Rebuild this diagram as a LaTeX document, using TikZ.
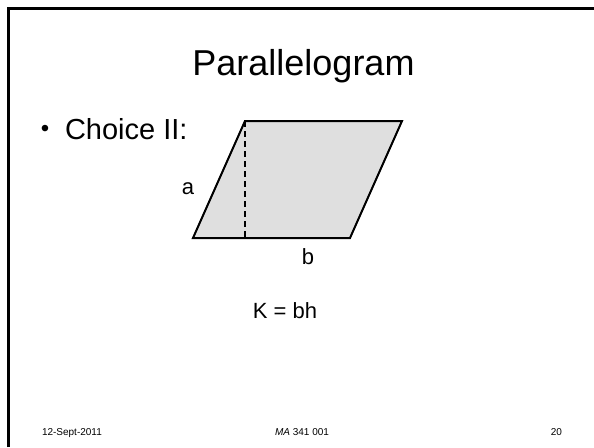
\documentclass[tikz,border=0pt]{standalone}
\usepackage{fontspec}
\setmainfont{Liberation Sans}
\begin{document}
\begin{tikzpicture}[x=1pt,y=-1pt,
  every node/.style={inner sep=0pt,outer sep=0pt},
  titletext/.style={font=\fontsize{36}{40}\selectfont},
  bodytext/.style={font=\fontsize{29}{32}\selectfont},
  labeltext/.style={font=\fontsize{22}{26}\selectfont},
  foottext/.style={font=\fontsize{10}{12}\selectfont},
  shapeline/.style={line width=2pt,line join=miter},
  heightline/.style={line width=1.2pt,dash pattern=on 6pt off 4pt}]
\useasboundingbox (0,0) rectangle (594,447);
% slide frame
\coordinate (fbl) at (8.5,447);
\coordinate (ftl) at (8.5,8.5);
\coordinate (ftr) at (594,8.5);
\draw[line width=3pt,line join=miter] (fbl) -- (ftl) -- (ftr);
% title
\node[titletext,anchor=base] (title) at (303.5,75) {Parallelogram};
% bullet
\node[font=\fontsize{24}{26}\selectfont] (bullet) at (45,131) {•};
\node[bodytext,anchor=base west] (choice) at (65,139) {Choice II:};
% parallelogram
\coordinate (A) at (193,238);
\coordinate (B) at (350,238);
\coordinate (C) at (402,121);
\coordinate (D) at (245,121);
\coordinate (H) at (245,238);
\fill[gray!25] (A) -- (B) -- (C) -- (D) -- cycle;
\draw[heightline] (D) -- (H);
\draw[shapeline] (A) -- (B) -- (C) -- (D) -- cycle;
\node[labeltext] (la) at (188,189) {a};
\node[labeltext] (lb) at (308,257) {b};
\node[labeltext,anchor=base] (area) at (285,318) {K = bh};
% footer
\node[foottext,anchor=base west] (date) at (42,435) {12-Sept-2011};
\node[foottext,anchor=base] (course) at (302,435) {\textit{MA} 341 001};
\node[foottext,anchor=base east] (page) at (562,435) {20};
\end{tikzpicture}
\end{document}
